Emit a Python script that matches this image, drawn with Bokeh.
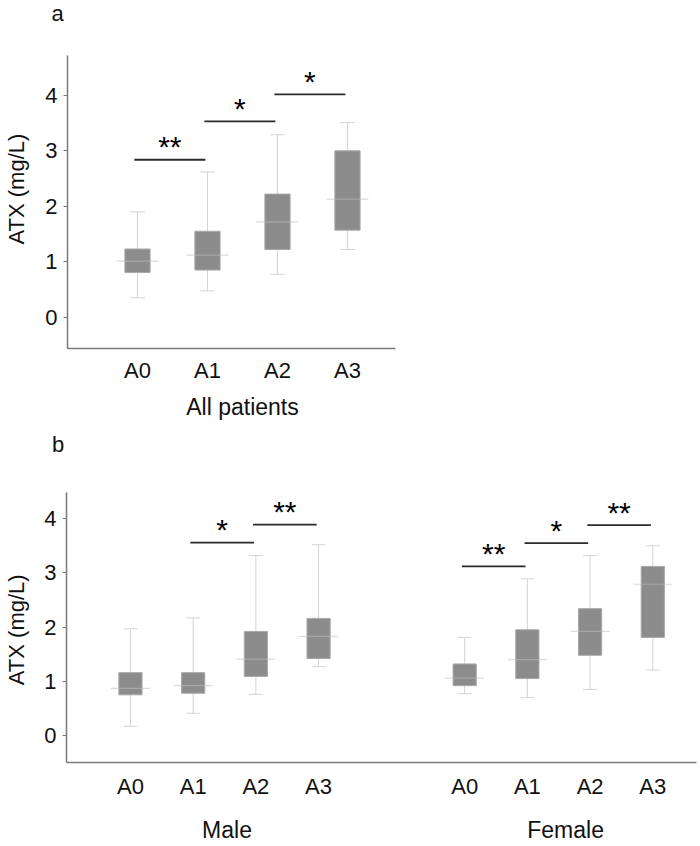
import math
from bokeh.plotting import figure
from bokeh.models import FixedTicker, Range1d, LinearAxis, GlobalInlineStyleSheet
from bokeh.embed import file_html
from bokeh.resources import INLINE
from bokeh.core.properties import value

FONT = "Liberation Sans"

# ---------------- data ----------------
groups = ["A0", "A1", "A2", "A3"]

all_low = [0.35, 0.475, 0.775, 1.22]
all_q1 = [0.805, 0.85, 1.22, 1.57]
all_med = [1.01, 1.12, 1.72, 2.13]
all_q3 = [1.23, 1.55, 2.22, 3.00]
all_high = [1.90, 2.62, 3.29, 3.51]

male_low = [0.17, 0.41, 0.76, 1.27]
male_q1 = [0.75, 0.78, 1.09, 1.42]
male_med = [0.87, 0.92, 1.41, 1.83]
male_q3 = [1.16, 1.16, 1.92, 2.16]
male_high = [1.97, 2.17, 3.32, 3.52]

female_low = [0.77, 0.70, 0.85, 1.21]
female_q1 = [0.92, 1.05, 1.48, 1.81]
female_med = [1.06, 1.40, 1.92, 2.79]
female_q3 = [1.32, 1.95, 2.34, 3.12]
female_high = [1.81, 2.89, 3.32, 3.50]

all_sig_pairs = [(0, 1), (1, 2), (2, 3)]
all_sig_y = [2.84, 3.53, 4.02]
all_sig_text = ["**", "*", "*"]

male_sig_pairs = [(1, 2), (2, 3)]
male_sig_y = [3.56, 3.89]
male_sig_text = ["*", "**"]

female_sig_pairs = [(0, 1), (1, 2), (2, 3)]
female_sig_y = [3.12, 3.55, 3.88]
female_sig_text = ["**", "*", "**"]

y_ticks = [0, 1, 2, 3, 4]
y_title = "ATX (mg/L)"
panel_a_label = "a"
panel_b_label = "b"
panel_a_group = "All patients"
panel_b_groups = ["Male", "Female"]

# ---------------- styles ----------------
BOX_FILL = "#8c8c8c"
BOX_LINE = "#a8a8a8"
WHISKER = "#d4d4d4"
AXIS = "#7a7a7a"
SIG = "#2b2b2b"
TXT = "#111111"


def base_fig(width, height, left, right, top, bottom, xr, yr, xticks, xlabels, x_standoff):
    p = figure(width=width, height=height, x_range=Range1d(*xr), y_range=Range1d(*yr),
               output_backend="svg", toolbar_location=None, tools="",
               min_border_left=left, min_border_right=right,
               min_border_top=top, min_border_bottom=bottom)
    p.xgrid.grid_line_color = None
    p.ygrid.grid_line_color = None
    p.outline_line_color = None
    p.background_fill_color = "white"
    p.border_fill_color = "white"

    p.yaxis.ticker = FixedTicker(ticks=y_ticks)
    p.yaxis.axis_line_color = AXIS
    p.yaxis.axis_line_width = 1.5
    p.yaxis.major_tick_line_color = AXIS
    p.yaxis.major_tick_out = 4
    p.yaxis.major_tick_in = 0
    p.yaxis.minor_tick_line_color = None
    p.yaxis.major_label_standoff = 6
    p.yaxis.major_label_text_font = FONT
    p.yaxis.major_label_text_font_size = "22px"
    p.yaxis.major_label_text_color = TXT

    p.xaxis.ticker = FixedTicker(ticks=xticks)
    p.xaxis.major_label_overrides = {t: l for t, l in zip(xticks, xlabels)}
    p.xaxis.axis_line_color = AXIS
    p.xaxis.axis_line_width = 1.5
    p.xaxis.major_tick_line_color = None
    p.xaxis.major_tick_out = 0
    p.xaxis.major_tick_in = 0
    p.xaxis.minor_tick_line_color = None
    p.xaxis.major_label_standoff = x_standoff
    p.xaxis.major_label_text_font = FONT
    p.xaxis.major_label_text_font_size = "22px"
    p.xaxis.major_label_text_color = TXT
    return p


def label_axis(ticks, labels, standoff, size, orientation="horizontal"):
    return LinearAxis(ticker=FixedTicker(ticks=ticks),
                      major_label_overrides={t: l for t, l in zip(ticks, labels)},
                      axis_line_color=None, major_tick_line_color=None,
                      minor_tick_line_color=None, major_tick_out=0, major_tick_in=0,
                      minor_tick_out=0, minor_tick_in=0,
                      major_label_standoff=standoff, major_label_orientation=orientation,
                      major_label_text_font=FONT, major_label_text_font_size=size,
                      major_label_text_color=TXT)


def spacer_axis(size):
    # invisible axis above the frame that only reserves room for the panel letter
    return LinearAxis(ticker=FixedTicker(ticks=[1]), major_label_overrides={1: "."},
                      axis_line_color=None, major_tick_line_color=None,
                      minor_tick_line_color=None, major_tick_out=size, major_tick_in=0,
                      minor_tick_out=0, minor_tick_in=0, major_label_standoff=0,
                      major_label_text_font_size="1px", major_label_text_alpha=0)


def panel_title(p, text, offset, standoff):
    p.title.text = text
    p.title.align = "left"
    p.title.vertical_align = "top"
    p.title.offset = offset
    p.title.standoff = standoff
    p.title.text_font = FONT
    p.title.text_font_size = "22px"
    p.title.text_font_style = "normal"
    p.title.text_color = TXT


def draw_boxes(p, xs, low, q1, med, q3, high, box_w, cap_w, med_w):
    p.segment(x0=xs, y0=low, x1=xs, y1=high, line_color=WHISKER, line_width=1)
    p.segment(x0=[x - cap_w / 2 for x in xs], y0=low, x1=[x + cap_w / 2 for x in xs], y1=low,
              line_color=WHISKER, line_width=1)
    p.segment(x0=[x - cap_w / 2 for x in xs], y0=high, x1=[x + cap_w / 2 for x in xs], y1=high,
              line_color=WHISKER, line_width=1)
    p.quad(left=[x - box_w / 2 for x in xs], right=[x + box_w / 2 for x in xs],
           bottom=q1, top=q3, fill_color=BOX_FILL, line_color=BOX_LINE, line_width=1)
    p.segment(x0=[x - med_w / 2 for x in xs], y0=med, x1=[x + med_w / 2 for x in xs], y1=med,
              line_color="#bdbdbd", line_alpha=0.55, line_width=1.2)


def draw_sig(p, xs, pairs, ys, texts):
    x0 = [xs[i] - 0.045 for i, j in pairs]
    x1 = [xs[j] - 0.03 for i, j in pairs]
    p.segment(x0=x0, y0=ys, x1=x1, y1=ys, line_color=SIG, line_width=1.8)
    p.text(x=[(a + b) / 2 for a, b in zip(x0, x1)], y=ys, text=texts,
           text_font=value(FONT), text_font_size="30px", text_align="center",
           text_baseline="alphabetic", text_color="black", y_offset=-13)


# ---------------- panel a ----------------
xa = [1, 2, 3, 4]
pa = base_fig(700, 431, 67, 305, 59, 79, (0, 4.686), (-0.565, 4.72), xa, groups, 9)
pa.add_layout(label_axis([2.5], [panel_a_group], 8, "23px"), "below")
pa.add_layout(label_axis([2.31], [y_title], 13, "22px", "vertical"), "left")
pa.add_layout(spacer_axis(28), "above")
panel_title(pa, panel_a_label, -16, 0)
draw_boxes(pa, xa, all_low, all_q1, all_med, all_q3, all_high, 0.36, 0.21, 0.6)
draw_sig(pa, xa, all_sig_pairs, all_sig_y, all_sig_text)

# ---------------- panel b ----------------
xm = [1, 2, 3, 4]
xf = [round(5.33 + i, 2) for i in range(1, 5)]
pb = base_fig(700, 419, 66, 4, 65, 84, (-0.02, 10.027), (-0.498, 4.483), xm + xf, groups + groups, 11)
pb.add_layout(label_axis([2.54, 7.94], panel_b_groups, 15, "23px"), "below")
pb.add_layout(label_axis([1.95], [y_title], 12, "22px", "vertical"), "left")
pb.add_layout(spacer_axis(34), "above")
panel_title(pb, panel_b_label, -14.5, 0)
draw_boxes(pb, xm, male_low, male_q1, male_med, male_q3, male_high, 0.37, 0.22, 0.62)
draw_boxes(pb, xf, female_low, female_q1, female_med, female_q3, female_high, 0.37, 0.22, 0.62)
draw_sig(pb, xm, male_sig_pairs, male_sig_y, male_sig_text)
draw_sig(pb, xf, female_sig_pairs, female_sig_y, female_sig_text)

pa.stylesheets = [GlobalInlineStyleSheet(
    css="html, body { margin: 0; padding: 0; } body { margin-top: -4px; }")]

open("out.html", "w").write(file_html([pa, pb], INLINE))
